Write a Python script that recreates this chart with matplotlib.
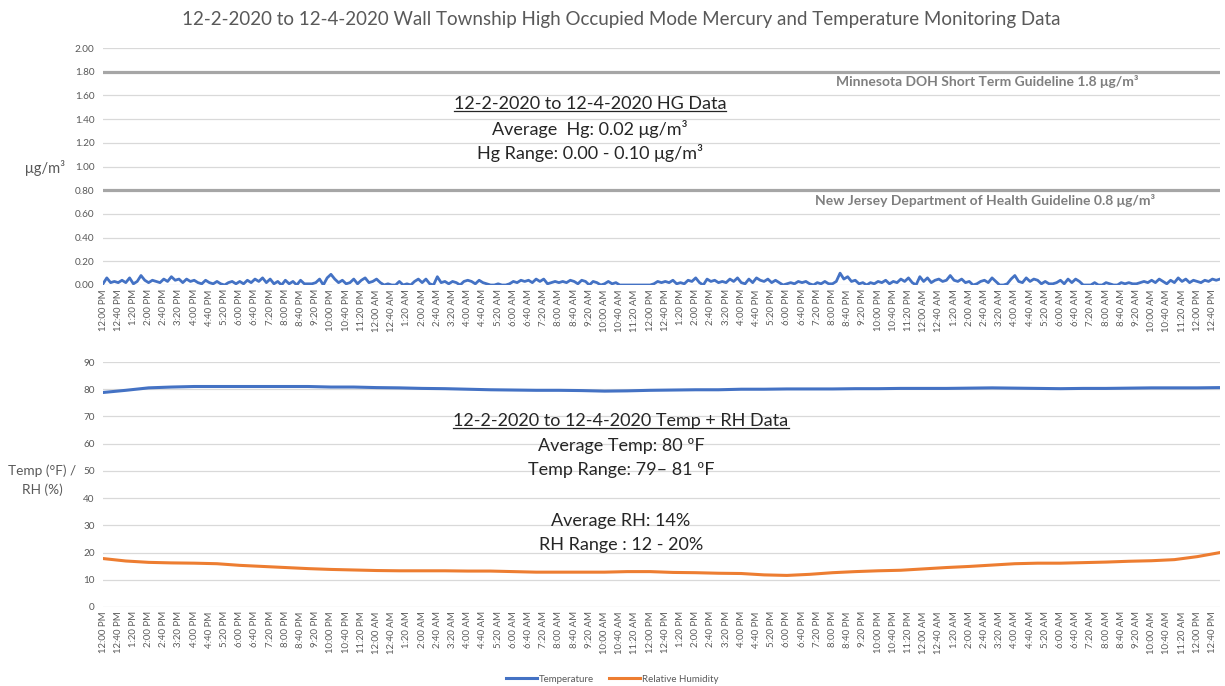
import numpy as np
import matplotlib
matplotlib.use("Agg")
import matplotlib.pyplot as plt
from matplotlib.lines import Line2D

plt.rcParams['font.family'] = ['Lato', 'DejaVu Sans']

# ---------------- data ----------------
# Hg readings every 10 minutes, 12:00 PM 12-2-2020 .. 1:00 PM 12-4-2020 (ug/m3)
HG = [
    0.01, 0.06, 0.02, 0.03, 0.02, 0.04,   # 12 PM
    0.02, 0.06, 0.01, 0.03, 0.08, 0.04,   # 1 PM
    0.02, 0.04, 0.03, 0.02, 0.05, 0.03,   # 2 PM
    0.07, 0.04, 0.05, 0.02, 0.05, 0.03,   # 3 PM
    0.04, 0.02, 0.01, 0.04, 0.02, 0.01,   # 4 PM
    0.03, 0.01, 0.00, 0.02, 0.03, 0.01,   # 5 PM
    0.03, 0.01, 0.04, 0.02, 0.05, 0.03,   # 6 PM
    0.06, 0.02, 0.05, 0.01, 0.03, 0.00,   # 7 PM
    0.04, 0.01, 0.03, 0.00, 0.04, 0.01,   # 8 PM
    0.01, 0.01, 0.02, 0.05, 0.00, 0.06,   # 9 PM
    0.09, 0.05, 0.02, 0.04, 0.01, 0.02,   # 10 PM
    0.05, 0.01, 0.04, 0.06, 0.02, 0.03,   # 11 PM
    0.05, 0.02, 0.00, 0.01, 0.00, 0.00,   # 12 AM
    0.03, 0.00, 0.01, 0.00, 0.03, 0.05,   # 1 AM
    0.02, 0.05, 0.01, 0.00, 0.07, 0.02,   # 2 AM
    0.03, 0.01, 0.03, 0.02, 0.00, 0.03,   # 3 AM
    0.04, 0.03, 0.01, 0.04, 0.02, 0.01,   # 4 AM
    0.00, 0.00, 0.01, 0.00, 0.00, 0.01,   # 5 AM
    0.03, 0.02, 0.04, 0.03, 0.04, 0.02,   # 6 AM
    0.05, 0.03, 0.05, 0.01, 0.02, 0.03,   # 7 AM
    0.02, 0.03, 0.02, 0.04, 0.03, 0.01,   # 8 AM
    0.04, 0.03, 0.00, 0.03, 0.02, 0.00,   # 9 AM
    0.01, 0.03, 0.01, 0.02, 0.00, 0.00,   # 10 AM
    0.00, 0.00, 0.00, 0.00, 0.00, 0.00,   # 11 AM
    0.00, 0.01, 0.03, 0.02, 0.03, 0.02,   # 12 PM
    0.04, 0.01, 0.02, 0.01, 0.04, 0.03,   # 1 PM
    0.06, 0.02, 0.00, 0.05, 0.03, 0.04,   # 2 PM
    0.02, 0.03, 0.02, 0.05, 0.03, 0.06,   # 3 PM
    0.02, 0.01, 0.05, 0.02, 0.06, 0.04,   # 4 PM
    0.03, 0.05, 0.02, 0.04, 0.02, 0.00,   # 5 PM
    0.01, 0.02, 0.01, 0.03, 0.02, 0.03,   # 6 PM
    0.01, 0.00, 0.02, 0.01, 0.03, 0.01,   # 7 PM
    0.01, 0.03, 0.10, 0.05, 0.07, 0.03,   # 8 PM
    0.04, 0.01, 0.02, 0.00, 0.02, 0.01,   # 9 PM
    0.03, 0.02, 0.04, 0.01, 0.03, 0.02,   # 10 PM
    0.05, 0.03, 0.06, 0.02, 0.00, 0.07,   # 11 PM
    0.03, 0.06, 0.02, 0.04, 0.05, 0.03,   # 12 AM
    0.04, 0.08, 0.04, 0.03, 0.05, 0.02,   # 1 AM
    0.03, 0.00, 0.01, 0.03, 0.04, 0.02,   # 2 AM
    0.06, 0.03, 0.00, 0.00, 0.01, 0.05,   # 3 AM
    0.08, 0.03, 0.02, 0.06, 0.03, 0.05,   # 4 AM
    0.04, 0.01, 0.03, 0.01, 0.01, 0.02,   # 5 AM
    0.04, 0.01, 0.05, 0.02, 0.05, 0.03,   # 6 AM
    0.00, 0.00, 0.00, 0.02, 0.00, 0.00,   # 7 AM
    0.02, 0.01, 0.00, 0.00, 0.02, 0.01,   # 8 AM
    0.02, 0.01, 0.01, 0.02, 0.03, 0.02,   # 9 AM
    0.04, 0.02, 0.05, 0.03, 0.01, 0.04,   # 10 AM
    0.02, 0.06, 0.03, 0.05, 0.02, 0.04,   # 11 AM
    0.03, 0.02, 0.04, 0.03, 0.05, 0.04,   # 12 PM
    0.05,                                 # 1 PM
]
HG_STEP_MIN = 10

# Hourly temperature (F) and relative humidity (%)
TEMP = [78.8, 79.6, 80.5, 80.8, 81.0, 81.0, 81.0, 81.0, 81.0, 81.0,
        80.8, 80.8, 80.6, 80.5, 80.3, 80.2, 80.0, 79.8, 79.7, 79.6,
        79.6, 79.5, 79.3, 79.4, 79.6, 79.7, 79.8, 79.8, 80.0, 80.0,
        80.1, 80.1, 80.1, 80.2, 80.2, 80.3, 80.3, 80.3, 80.4, 80.5,
        80.4, 80.3, 80.2, 80.3, 80.3, 80.4, 80.5, 80.5, 80.5, 80.6]
RH = [17.8, 16.9, 16.4, 16.2, 16.1, 15.9, 15.3, 14.9, 14.5, 14.1,
      13.8, 13.6, 13.4, 13.3, 13.3, 13.3, 13.2, 13.2, 13.0, 12.8,
      12.8, 12.8, 12.8, 13.0, 13.0, 12.7, 12.6, 12.4, 12.3, 11.8,
      11.6, 12.0, 12.6, 13.0, 13.3, 13.5, 14.0, 14.5, 14.9, 15.4,
      15.9, 16.1, 16.1, 16.3, 16.5, 16.8, 17.0, 17.4, 18.5, 20.0]
TR_STEP_MIN = 60

DAY_LABELS = ["12:00 PM", "12:40 PM", "1:20 PM", "2:00 PM", "2:40 PM", "3:20 PM",
              "4:00 PM", "4:40 PM", "5:20 PM", "6:00 PM", "6:40 PM", "7:20 PM",
              "8:00 PM", "8:40 PM", "9:20 PM", "10:00 PM", "10:40 PM", "11:20 PM",
              "12:00 AM", "12:40 AM", "1:20 AM", "2:00 AM", "2:40 AM", "3:20 AM",
              "4:00 AM", "4:40 AM", "5:20 AM", "6:00 AM", "6:40 AM", "7:20 AM",
              "8:00 AM", "8:40 AM", "9:20 AM", "10:00 AM", "10:40 AM", "11:20 AM"]
TICK_LABELS = DAY_LABELS + DAY_LABELS + ["12:00 PM", "12:40 PM"]
TICK_STEP_MIN = 40

GUIDE_MN = 1.8
GUIDE_NJ = 0.8

# ---------------- figure ----------------
W, H = 1225, 686
fig = plt.figure(figsize=(W / 100, H / 100), dpi=100)

def ax_rect(x0, x1, ytop, ybot):
    return [x0 / W, 1 - ybot / H, (x1 - x0) / W, (ybot - ytop) / H]

GRID = '#d9d9d9'
TXT = '#595959'
BLUE = '#4472C4'
ORANGE = '#ED7D31'

hg_x = np.arange(len(HG)) * HG_STEP_MIN
tr_x = np.arange(len(TEMP)) * TR_STEP_MIN
tick_x = np.arange(len(TICK_LABELS)) * TICK_STEP_MIN
xmax = hg_x[-1]

def style(ax):
    for s in ax.spines.values():
        s.set_visible(False)
    ax.set_xlim(0, xmax)
    ax.grid(axis='y', color=GRID, lw=0.9)
    ax.set_axisbelow(True)
    ax.tick_params(length=0, colors=TXT, labelsize=7.2, pad=6)
    ax.set_xticks(tick_x)
    ax.set_xticklabels(TICK_LABELS, rotation=90, fontsize=6.9, color=TXT)
    ax.tick_params(axis='x', pad=3)

# ----- top: Hg -----
ax1 = fig.add_axes(ax_rect(103, 1220, 48, 285))
style(ax1)
ax1.set_ylim(0, 2)
ax1.set_yticks(np.arange(0, 2.01, 0.2))
ax1.set_yticklabels([f"{v:.2f}" for v in np.arange(0, 2.01, 0.2)])
ax1.axhline(GUIDE_MN, color='#a6a6a6', lw=2.3, zorder=1)
ax1.axhline(GUIDE_NJ, color='#a6a6a6', lw=2.3, zorder=1)
ax1.plot(hg_x, HG, color=BLUE, lw=2.0, zorder=3)

ax1.text(0.792, 1.72, "Minnesota DOH Short Term Guideline 1.8 μg/m³",
         transform=ax1.get_yaxis_transform(), ha='center', va='center',
         fontsize=10, fontweight='bold', color='#7f7f7f')
ax1.text(0.790, 0.715, "New Jersey Department of Health Guideline 0.8 μg/m³",
         transform=ax1.get_yaxis_transform(), ha='center', va='center',
         fontsize=10, fontweight='bold', color='#7f7f7f')

# ----- bottom: Temp + RH -----
ax2 = fig.add_axes(ax_rect(103, 1220, 362, 607))
style(ax2)
ax2.set_ylim(0, 90)
ax2.set_yticks(np.arange(0, 91, 10))
l1, = ax2.plot(tr_x, TEMP, color=BLUE, lw=2.2, label='Temperature', zorder=3)
l2, = ax2.plot(tr_x, RH, color=ORANGE, lw=2.2, label='Relative Humidity', zorder=3)

# ----- texts -----
fig.text(621 / W, 1 - 19 / H,
         "12-2-2020 to 12-4-2020 Wall Township High Occupied Mode Mercury and Temperature Monitoring Data",
         ha='center', va='center', fontsize=13.5, color=TXT)

fig.text(45 / W, 1 - 168 / H, "μg/m³", ha='center', va='center', fontsize=10.5, color=TXT)
fig.text(42 / W, 1 - 480 / H, "Temp (°F) /\nRH (%)", ha='center', va='center',
         fontsize=9.8, color=TXT, linespacing=1.6)

BLK = '#262626'
underlined = []
t = fig.text(590 / W, 1 - 104 / H, "12-2-2020 to 12-4-2020 HG Data",
             ha='center', va='center', fontsize=13, color=BLK)
underlined.append(t)
fig.text(590 / W, 1 - 129 / H, "Average  Hg: 0.02 μg/m³", ha='center', va='center', fontsize=13, color=BLK)
fig.text(590 / W, 1 - 153 / H, "Hg Range: 0.00 - 0.10 μg/m³", ha='center', va='center', fontsize=13, color=BLK)

t = fig.text(621 / W, 1 - 421 / H, "12-2-2020 to 12-4-2020 Temp + RH Data",
             ha='center', va='center', fontsize=13, color=BLK)
underlined.append(t)
fig.text(621 / W, 1 - 446 / H, "Average Temp: 80 ºF", ha='center', va='center', fontsize=13, color=BLK)
fig.text(621 / W, 1 - 470 / H, "Temp Range: 79– 81 ºF", ha='center', va='center', fontsize=13, color=BLK)
fig.text(621 / W, 1 - 521 / H, "Average RH: 14%", ha='center', va='center', fontsize=13, color=BLK)
fig.text(621 / W, 1 - 545 / H, "RH Range : 12 - 20%", ha='center', va='center', fontsize=13, color=BLK)

fig.canvas.draw()
r = fig.canvas.get_renderer()
for t in underlined:
    bb = t.get_window_extent(r)
    y = (bb.y0 + 1) / H
    fig.add_artist(Line2D([bb.x0 / W, bb.x1 / W], [y, y], color=BLK, lw=0.9))

fig.legend(handles=[l1, l2], loc='center', bbox_to_anchor=(612 / W, 1 - 679 / H),
           ncol=2, frameon=False, fontsize=7, handlelength=3.2, columnspacing=1.5,
           handletextpad=0.2, labelcolor=TXT)

fig.savefig("out.png", dpi=100)
